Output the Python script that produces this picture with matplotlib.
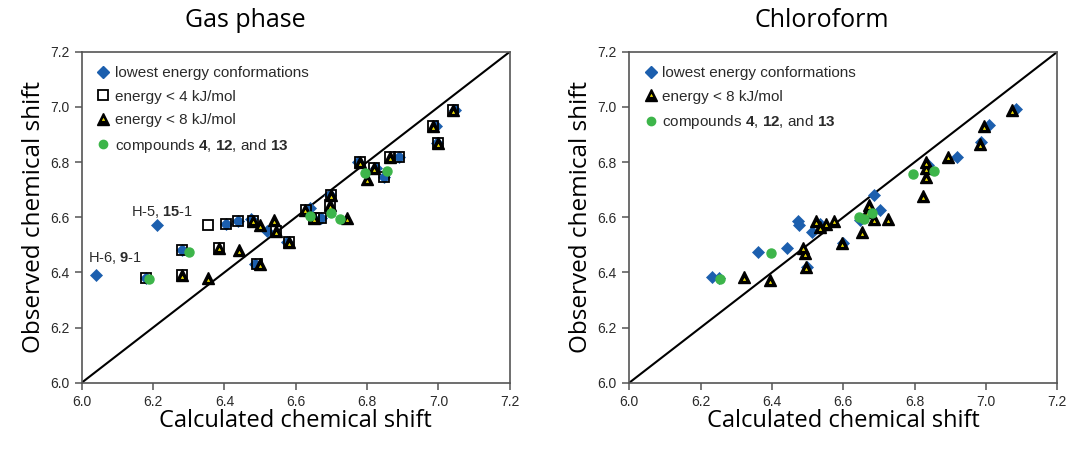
import matplotlib
matplotlib.use('Agg')
import matplotlib.pyplot as plt
from matplotlib.lines import Line2D

plt.rcParams['mathtext.fontset'] = 'custom'
plt.rcParams['mathtext.rm'] = 'Liberation Sans'
plt.rcParams['mathtext.bf'] = 'Liberation Sans:bold'

# ---- Gas phase data (calculated, observed) ----
gas_lowest_x = [6.04, 6.21, 6.18, 6.28, 6.405, 6.437, 6.475, 6.52, 6.487, 6.64, 6.67, 6.695,
                6.825, 6.846, 6.89, 6.992, 7.046, 6.575, 6.995, 6.775]
gas_lowest_y = [6.39, 6.57, 6.38, 6.48, 6.575, 6.585, 6.593, 6.55, 6.43, 6.632, 6.597, 6.68,
                6.78, 6.745, 6.818, 6.93, 6.99, 6.51, 6.87, 6.80]

gas_4kj_x = [6.18, 6.28, 6.353, 6.28, 6.385, 6.405, 6.437, 6.48, 6.545, 6.49, 6.58, 6.63,
             6.65, 6.67, 6.70, 6.695, 6.78, 6.82, 6.846, 6.865, 6.89, 6.986, 6.998, 7.04]
gas_4kj_y = [6.38, 6.48, 6.57, 6.39, 6.49, 6.575, 6.585, 6.588, 6.55, 6.43, 6.51, 6.628,
             6.598, 6.598, 6.68, 6.645, 6.80, 6.78, 6.745, 6.818, 6.818, 6.93, 6.868, 6.988]

gas_8kj_x = [6.28, 6.355, 6.385, 6.44, 6.48, 6.50, 6.54, 6.545, 6.50, 6.58, 6.627, 6.65,
             6.70, 6.695, 6.743, 6.78, 6.818, 6.80, 6.865, 6.986, 6.998, 7.04]
gas_8kj_y = [6.39, 6.38, 6.49, 6.48, 6.588, 6.57, 6.59, 6.55, 6.43, 6.51, 6.628, 6.598,
             6.68, 6.645, 6.598, 6.80, 6.78, 6.74, 6.818, 6.93, 6.868, 6.988]

gas_cmpd_x = [6.19, 6.30, 6.64, 6.70, 6.725, 6.795, 6.855]
gas_cmpd_y = [6.375, 6.475, 6.605, 6.614, 6.594, 6.759, 6.767]

# ---- Chloroform data ----
chl_lowest_x = [6.233, 6.25, 6.36, 6.443, 6.474, 6.476, 6.513, 6.497, 6.535, 6.598, 6.647,
                6.686, 6.703, 6.838, 6.918, 6.986, 7.007, 7.085]
chl_lowest_y = [6.385, 6.38, 6.475, 6.487, 6.587, 6.572, 6.548, 6.42, 6.575, 6.507, 6.59,
                6.68, 6.628, 6.79, 6.82, 6.872, 6.934, 6.994]

chl_8kj_x = [6.321, 6.393, 6.486, 6.493, 6.494, 6.524, 6.535, 6.552, 6.573, 6.595, 6.653,
             6.667, 6.672, 6.686, 6.725, 6.824, 6.832, 6.832, 6.832, 6.892, 6.983, 6.995, 7.074]
chl_8kj_y = [6.383, 6.373, 6.49, 6.47, 6.42, 6.587, 6.563, 6.577, 6.588, 6.506, 6.547,
             6.62, 6.645, 6.593, 6.593, 6.677, 6.80, 6.777, 6.746, 6.82, 6.867, 6.93, 6.99]

chl_cmpd_x = [6.255, 6.397, 6.645, 6.657, 6.68, 6.796, 6.853]
chl_cmpd_y = [6.375, 6.472, 6.602, 6.593, 6.614, 6.756, 6.767]

ticks = [6.0, 6.2, 6.4, 6.6, 6.8, 7.0, 7.2]

BLUE = '#1c5fae'
GREEN = '#3db54a'
YELLOW = '#f5e400'
SPINE = '#555555'
TEXT = '#2a2a2a'
LABEL_FONT = 'Open Sans'
TICK_FONT = 'Liberation Sans'

LBL_LOWEST = 'lowest energy conformations'
LBL_4KJ = 'energy < 4 kJ/mol'
LBL_8KJ = 'energy < 8 kJ/mol'
LBL_CMPD = r'compounds $\mathbf{4}$, $\mathbf{12}$, and $\mathbf{13}$'

TRI_MS = 8.5
INNER_MS = 1.8


def draw_diamonds(ax, x, y):
    ax.plot(x, y, 'D', color=BLUE, ms=6, mec=BLUE, mew=0.5, ls='none', zorder=3)


def draw_squares(ax, x, y):
    ax.plot(x, y, 's', mfc='none', mec='black', ms=7, mew=1.3, ls='none', zorder=4)


def draw_triangles(ax, x, y):
    ax.plot(x, y, '^', color='black', ms=TRI_MS, ls='none', zorder=5)
    ax.plot(x, [v - 0.007 for v in y], '^', color=YELLOW, mec=YELLOW, mew=0.3,
            ms=INNER_MS, ls='none', zorder=6)


def draw_circles(ax, x, y):
    ax.plot(x, y, 'o', color=GREEN, ms=6.5, mec=GREEN, ls='none', zorder=7)


def tri_handle():
    big = Line2D([], [], marker='^', color='black', ms=TRI_MS, ls='none')
    small = Line2D([], [], marker='^', color=YELLOW, mec=YELLOW, mew=0.3, ms=INNER_MS, ls='none')
    return (big, small)


def style_axes(ax, title, title_x):
    ax.plot([6.0, 7.2], [6.0, 7.2], color='black', lw=1.5, zorder=2)
    ax.set_xlim(6.0, 7.2)
    ax.set_ylim(6.0, 7.2)
    ax.set_xticks(ticks)
    ax.set_yticks(ticks)
    ax.set_xticklabels([f'{t:.1f}' for t in ticks], fontfamily=TICK_FONT, fontsize=10, color=TEXT)
    ax.set_yticklabels([f'{t:.1f}' for t in ticks], fontfamily=TICK_FONT, fontsize=10, color=TEXT)
    ax.tick_params(direction='out', length=5, width=1.1, color=SPINE, pad=4)
    for s in ax.spines.values():
        s.set_color(SPINE)
        s.set_linewidth(1.2)
    ax.text(title_x, 1.095, title, transform=ax.transAxes, ha='center', va='center',
            fontfamily=LABEL_FONT, fontsize=18, color='black')
    ax.set_xlabel('Calculated chemical shift', fontfamily=LABEL_FONT, fontsize=17, labelpad=0)
    ax.set_ylabel('Observed chemical shift', fontfamily=LABEL_FONT, fontsize=17.5, labelpad=3)


fig = plt.figure(figsize=(10.71, 4.49), dpi=100)
ax1 = fig.add_axes([0.0763, 0.1477, 0.3997, 0.737])
ax2 = fig.add_axes([0.5876, 0.1477, 0.3997, 0.737])

# Gas phase
draw_diamonds(ax1, gas_lowest_x, gas_lowest_y)
draw_squares(ax1, gas_4kj_x, gas_4kj_y)
draw_triangles(ax1, gas_8kj_x, gas_8kj_y)
draw_circles(ax1, gas_cmpd_x, gas_cmpd_y)
style_axes(ax1, 'Gas phase', 0.382)
ax1.text(6.018, 6.452, r'H-6, $\mathbf{9}$-1', fontfamily=TICK_FONT, fontsize=10.5, color=TEXT, va='center')
ax1.text(6.138, 6.618, r'H-5, $\mathbf{15}$-1', fontfamily=TICK_FONT, fontsize=10.5, color=TEXT, va='center')

h_d = Line2D([], [], marker='D', color=BLUE, ms=6, ls='none')
h_s = Line2D([], [], marker='s', mfc='none', mec='black', ms=7, mew=1.3, ls='none')
h_c = Line2D([], [], marker='o', color=GREEN, ms=6, ls='none')

leg_kw = dict(loc='upper left', frameon=False, handlelength=0.9, handletextpad=0.3,
              labelspacing=0.62, borderaxespad=0.65, borderpad=0.3,
              prop={'family': TICK_FONT, 'size': 11})
leg1 = ax1.legend([h_d, h_s, tri_handle(), h_c], [LBL_LOWEST, LBL_4KJ, LBL_8KJ, LBL_CMPD], **leg_kw)
for t in leg1.get_texts():
    t.set_color(TEXT)

# Chloroform
draw_diamonds(ax2, chl_lowest_x, chl_lowest_y)
draw_triangles(ax2, chl_8kj_x, chl_8kj_y)
draw_circles(ax2, chl_cmpd_x, chl_cmpd_y)
style_axes(ax2, 'Chloroform', 0.45)
leg2 = ax2.legend([h_d, tri_handle(), h_c], [LBL_LOWEST, LBL_8KJ, LBL_CMPD], **leg_kw)
for t in leg2.get_texts():
    t.set_color(TEXT)

fig.savefig('out.png', dpi=100)
